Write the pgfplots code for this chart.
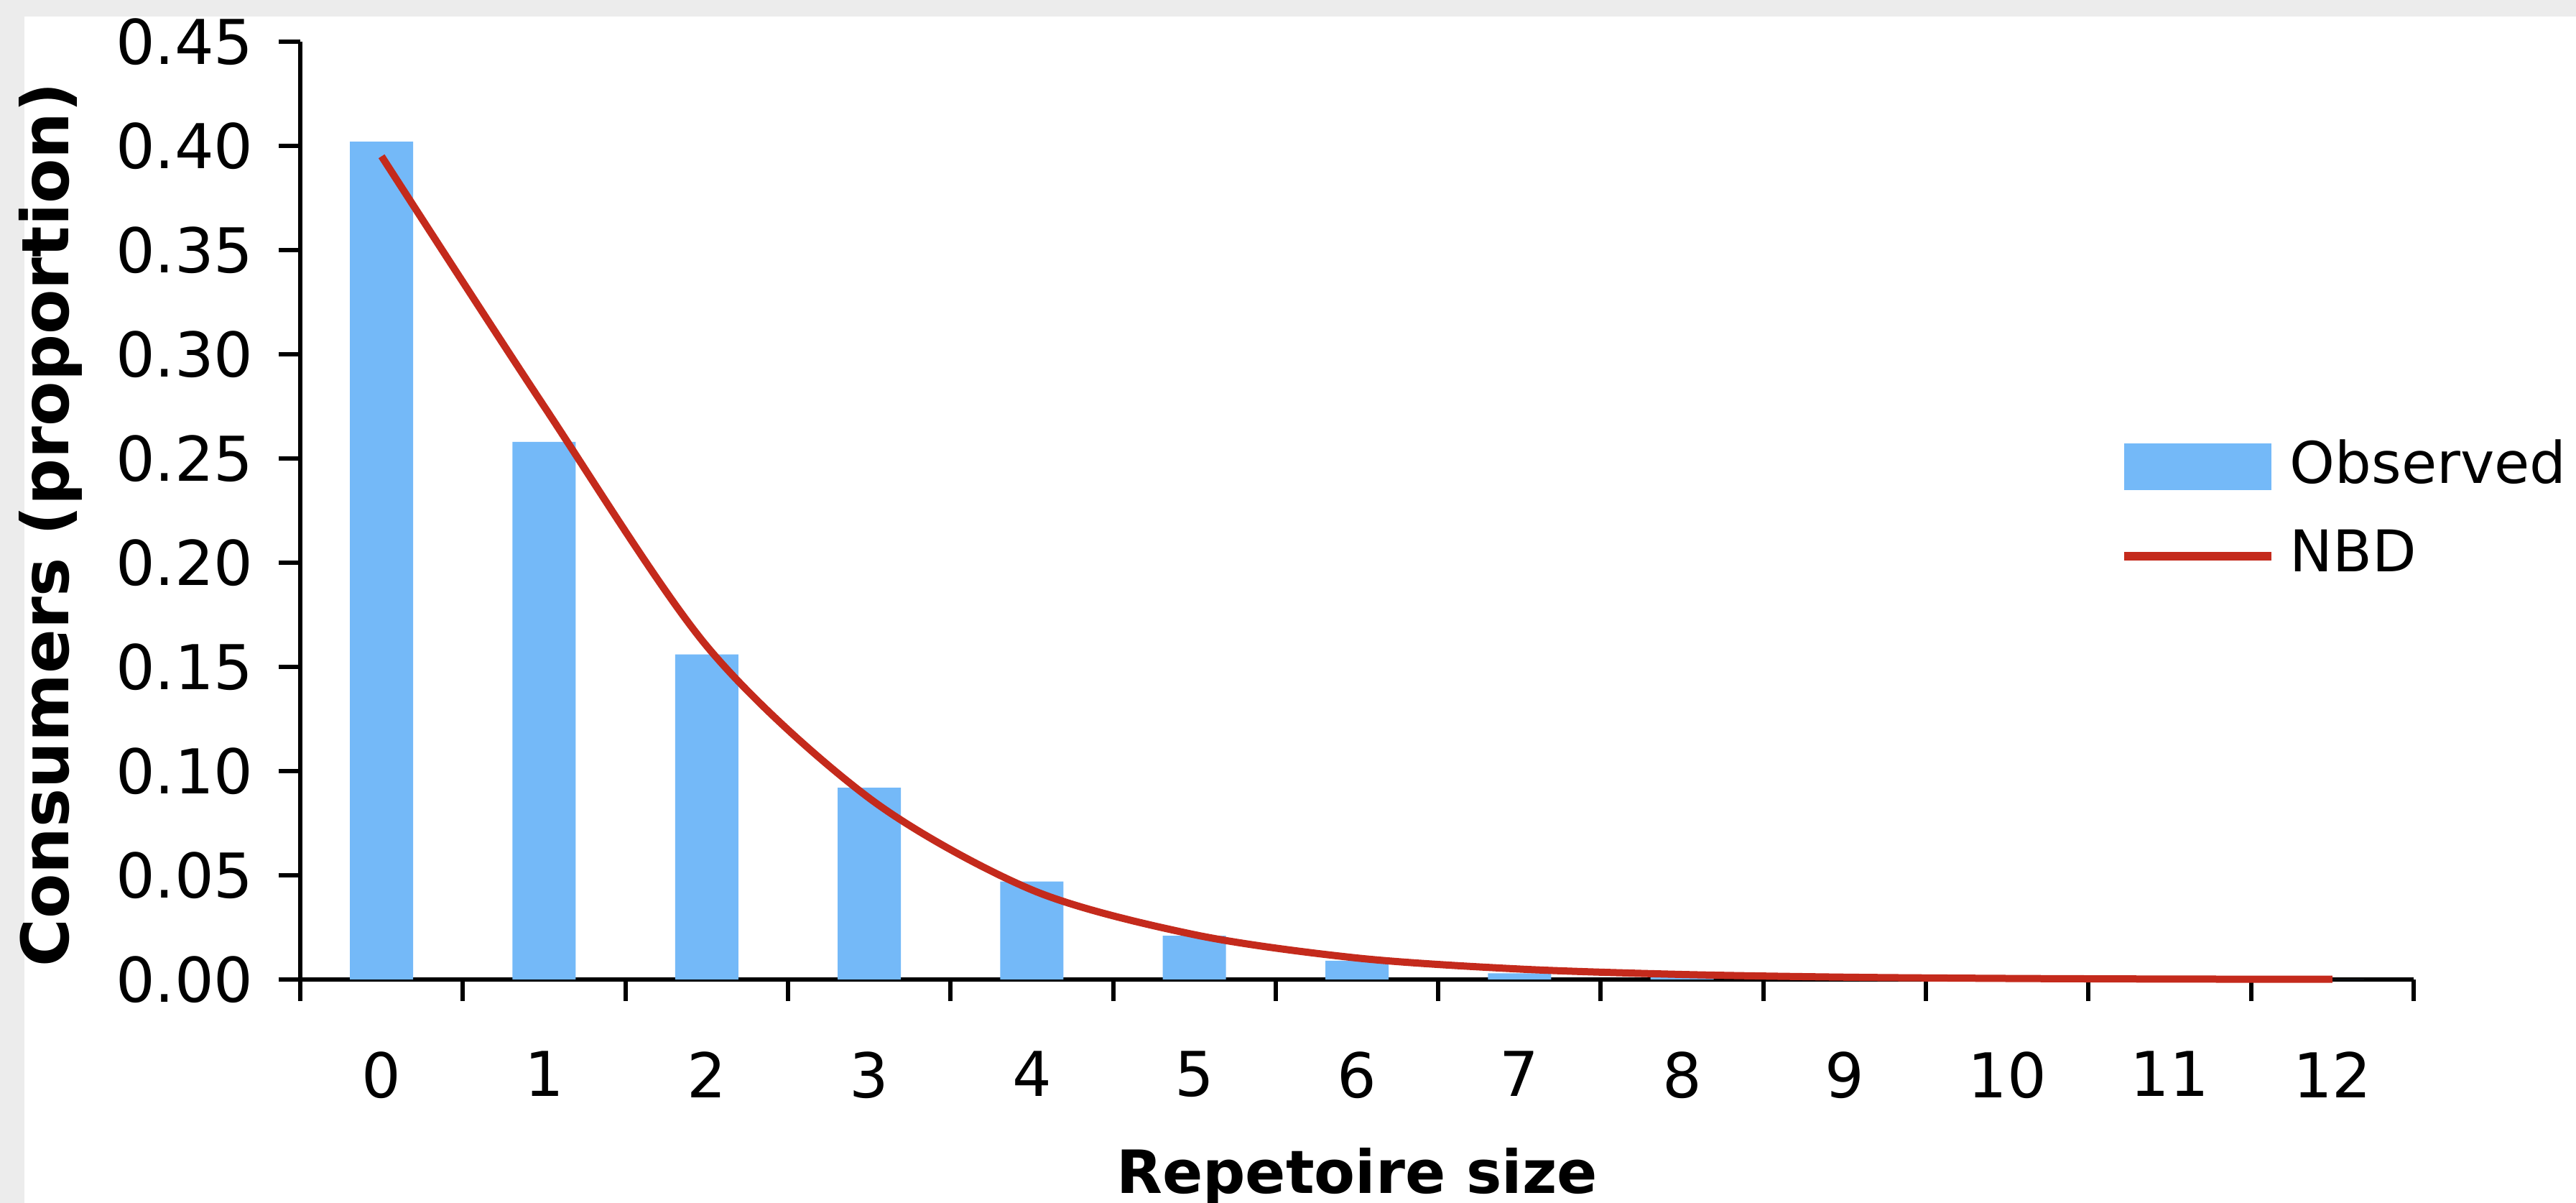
\documentclass[border=0pt]{standalone}
\usepackage{fontspec}
\setmainfont{DejaVu Sans}
\usepackage{pgfplots}
\pgfplotsset{compat=1.18}
\definecolor{barblue}{RGB}{116,185,248}
\definecolor{nbdred}{RGB}{196,42,28}
\definecolor{bggray}{RGB}{236,236,236}

\begin{document}
\begin{tikzpicture}
  \useasboundingbox (-41.8pt,-31.1pt) rectangle (316.8pt,136.3pt);
  \fill[bggray] (-41.8pt,-31.1pt) rectangle (316.8pt,136.3pt);
  \fill[white] (-38.4pt,-31.1pt) rectangle (316.8pt,134.0pt);
  \begin{axis}[
      at={(0pt,0pt)}, anchor=south west,
      scale only axis,
      width=294.2pt, height=130.5pt,
      xmin=-0.5, xmax=12.5,
      ymin=0, ymax=0.45,
      axis x line*=bottom, axis y line*=left,
      axis line style={black, line width=0.6pt},
      tick style={black, line width=0.6pt},
      tick align=outside,
      major tick length=3pt,
      xtick={-0.5,0.5,...,12.5},
      xticklabels={},
      extra x ticks={0,1,2,3,4,5,6,7,8,9,10,11,12},
      extra x tick style={major tick length=0pt},
      extra x tick labels={0,1,2,3,4,5,6,7,8,9,10,11,12},
      xticklabel style={font=\fontsize{8.6}{10}\selectfont, anchor=north, yshift=-6.5pt},
      ytick={0,0.05,0.10,0.15,0.20,0.25,0.30,0.35,0.40,0.45},
      yticklabels={0.00,0.05,0.10,0.15,0.20,0.25,0.30,0.35,0.40,0.45},
      yticklabel style={font=\fontsize{8.6}{10}\selectfont, anchor=east},
      xlabel={\bfseries Repetoire size},
      xlabel style={font=\fontsize{8.3}{10}\selectfont, at={(axis description cs:0.5,0)}, anchor=base, yshift=-29.8pt},
      ylabel={\bfseries Consumers (proportion)},
      ylabel style={font=\fontsize{9.1}{10}\selectfont, at={(axis description cs:-0.1095,0.485)}, anchor=base, rotate=0},
      legend style={draw=none, fill=none, at={(axis description cs:0.850,0.608)}, anchor=north west,
        font=\fontsize{8}{9.6}\selectfont, row sep=1pt},
      legend cell align=left,
      clip=false,
    ]
    \addplot[ybar, bar width=8.8pt, fill=barblue, draw=none,
      legend image code/.code={\fill[barblue] (0pt,-3.25pt) rectangle (20.5pt,3.25pt);}]
      coordinates {
        (0,0.402) (1,0.258) (2,0.156) (3,0.092) (4,0.047) (5,0.021) (6,0.009)
        (7,0.003) (8,0.001) (9,0) (10,0) (11,0) (12,0)
      };
    \addplot[nbdred, line width=1pt, smooth, mark=none,
      legend image code/.code={\draw[nbdred, line width=1.2pt] (0pt,0pt) -- (20.5pt,0pt);}]
      coordinates {
        (0,0.395) (1,0.275) (2,0.160) (3,0.087) (4,0.043) (5,0.0215) (6,0.0103)
        (7,0.005) (8,0.0024) (9,0.0011) (10,0.0005) (11,0.0002) (12,0.0001)
      };
    \legend{Observed,NBD}
  \end{axis}
\end{tikzpicture}
\end{document}
